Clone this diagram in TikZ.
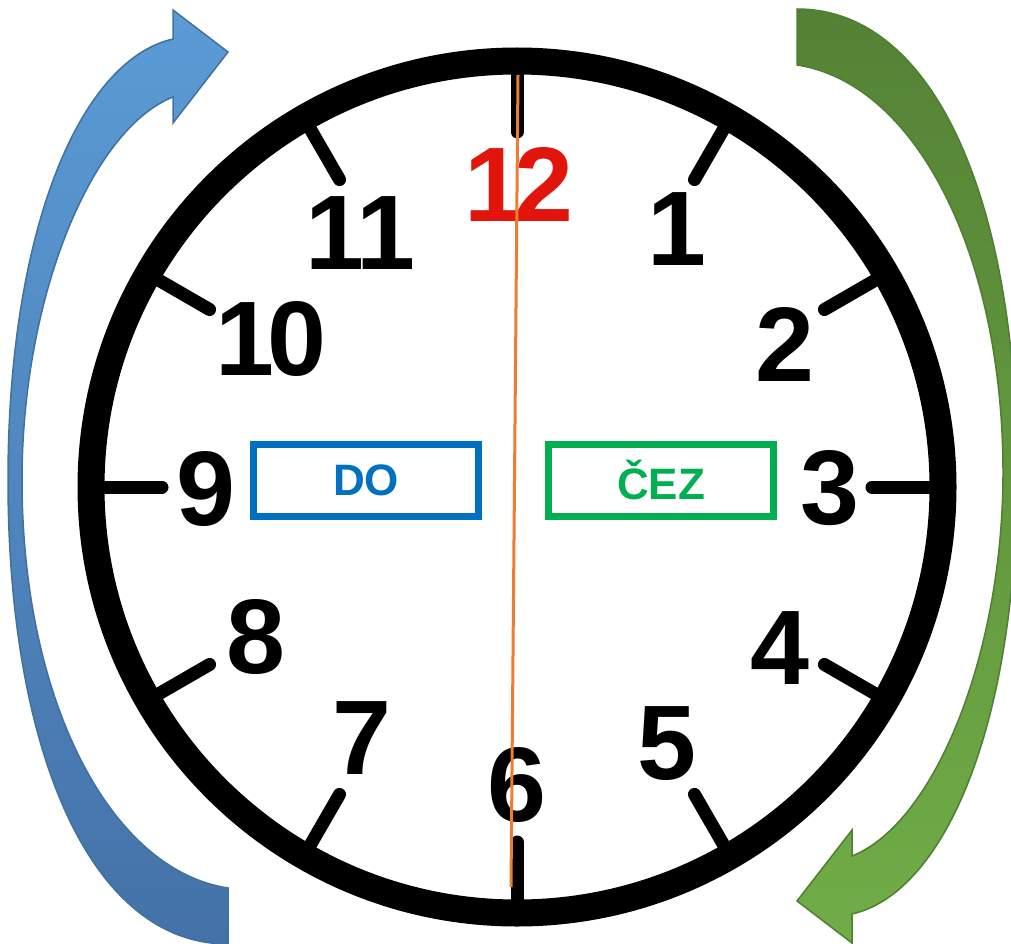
\documentclass[tikz,border=0pt]{standalone}
\usepackage{fontspec}
\setmainfont{Liberation Sans}
\definecolor{clockred}{HTML}{E1150B}
\definecolor{handorange}{HTML}{ED7D31}
\definecolor{doblue}{HTML}{0070C0}
\definecolor{cezgreen}{HTML}{00B050}
\definecolor{arrblue}{HTML}{5B9BD5}
\definecolor{arrbluedark}{HTML}{4472A8}
\definecolor{arrblueline}{HTML}{41719C}
\definecolor{arrgreen}{HTML}{70AD47}
\definecolor{arrgreendark}{HTML}{548235}
\definecolor{arrgreenline}{HTML}{507E32}

\begin{document}
\begin{tikzpicture}[x=1pt,y=-1pt,
    numlbl/.style={font=\fontsize{106}{106}\selectfont\bfseries,inner sep=0pt},
    tickmark/.style={line width=13pt,line cap=round},
    tagbox/.style={draw,line width=7pt,minimum width=225pt,minimum height=72pt,inner sep=0pt,font=\fontsize{44}{44}\selectfont\bfseries}]
    \useasboundingbox (0,0) rectangle (1011,944);
    % curved arrows round the clock
    \draw[arrblueline,line width=1.5pt,top color=arrblue,bottom color=arrbluedark]
      (228,944) .. controls (90,944) and (8,750) .. (8,480) .. controls (8,230) and (80,60) .. (173,39)
      -- (173,10) -- (228,52) -- (173,123) -- (173,97)
      .. controls (90,130) and (22,300) .. (22,480) .. controls (22,700) and (110,870) .. (228,888) -- cycle;
    \draw[arrgreenline,line width=1.5pt,top color=arrgreendark,bottom color=arrgreen]
      (797,9) .. controls (935,9) and (1017,203) .. (1017,473) .. controls (1017,723) and (945,893) .. (852,914)
      -- (852,943) -- (797,901) -- (852,830) -- (852,856)
      .. controls (935,823) and (1003,653) .. (1003,473) .. controls (1003,253) and (915,83) .. (797,65) -- cycle;
    % dial
    \node[circle,draw,line width=27pt,fill=white,minimum size=852pt,inner sep=0pt] (clock) at (517,487) {};
    \foreach \a in {0,30,...,330}
      \draw[tickmark] ([shift={(\a:355pt)}]clock.center) -- ([shift={(\a:413pt)}]clock.center);
    \node[numlbl,text=clockred] (n12) at (519,184) {1\kern-9pt2};
    \node[numlbl] (n1) at (677,229) {1};
    \node[numlbl] (n2) at (785,344) {2};
    \node[numlbl] (n3) at (830,488) {3};
    \node[numlbl] (n4) at (780,648) {4};
    \node[numlbl] (n5) at (667,744) {5};
    \node[numlbl] (n6) at (517,785) {6};
    \node[numlbl] (n7) at (362,738) {7};
    \node[numlbl] (n8) at (256,637) {8};
    \node[numlbl] (n9) at (206,489) {9};
    \node[numlbl] (n10) at (271,339) {1\kern-7pt0};
    \node[numlbl] (n11) at (360,233) {1\kern-8pt1};
    \node[tagbox,draw=doblue,text=doblue] (do) at (366,480) {DO};
    \node[tagbox,draw=cezgreen,text=cezgreen] (cez) at (661,480) {ČEZ};
    % hand
    \coordinate (handtop) at (518,75);
    \coordinate (handend) at (511,887);
    \draw[handorange,line width=3pt] (handtop) -- (handend);
  \end{tikzpicture}
\end{document}
